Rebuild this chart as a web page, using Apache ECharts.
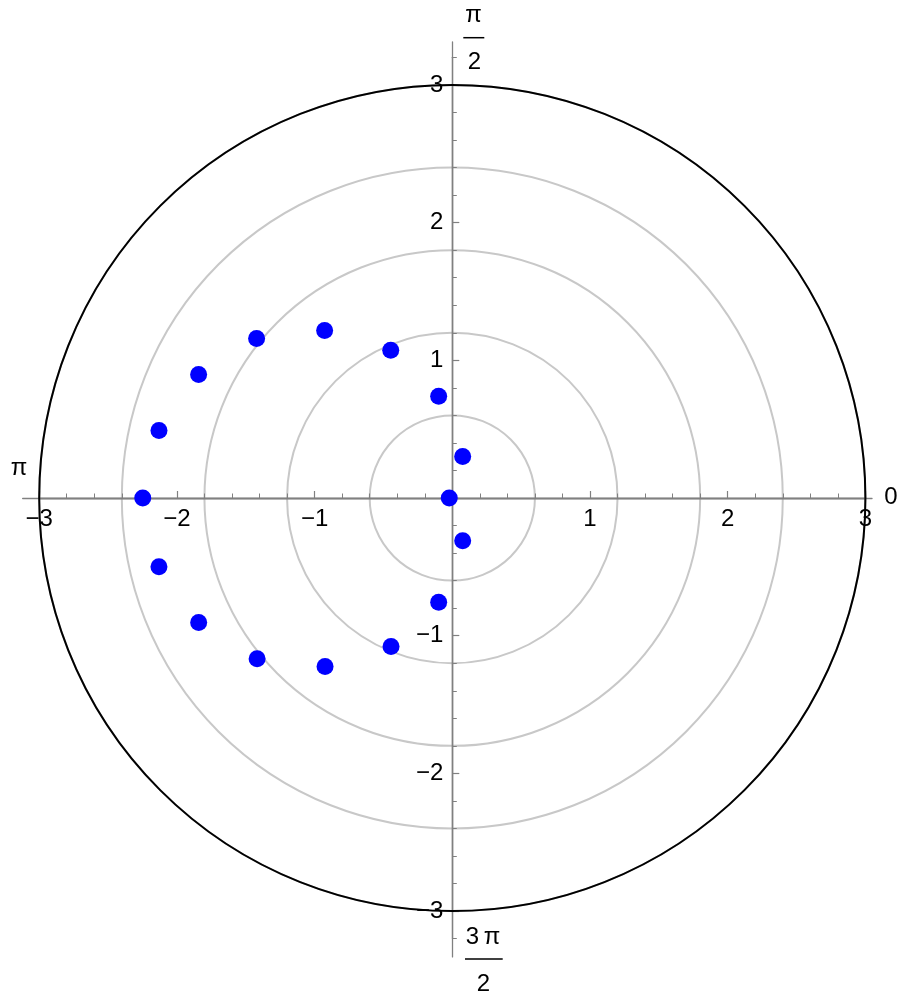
<!DOCTYPE html>
<html><head><meta charset="utf-8">
<script src="https://cdn.jsdelivr.net/npm/echarts@6/dist/echarts.min.js"></script>
<style>html,body{margin:0;padding:0;background:#fff}#c{width:900px;height:1002px}</style>
</head><body><div id="c"></div>
<script>
// ---- data (polar points: angle in degrees, radius) ----
const angles = [180, 75.96, 97.64, 112.63, 127.30, 140.80, 154.04, 167.02, 180, 193.19, 206.16, 219.46, 232.93, 247.57, 262.56, 283.68];
const radii  = [0.022, 0.311, 0.745, 1.162, 1.530, 1.834, 2.049, 2.186, 2.248, 2.188, 2.052, 1.836, 1.533, 1.166, 0.764, 0.319];
const tickValues = [-3, -2, -1, 0, 1, 2, 3];
const tickLabels = ['\u22123', '\u22122', '\u22121', '', '1', '2', '3'];
const gridRadii = [0.6, 1.2, 1.8, 2.4, 3.0];

// ---- layout ----
const CX = 452.3, CY = 498, S = 137.7;
const AX = '#808080';
const FONT = '"Liberation Sans", Arial, sans-serif';
const FS = 24;
function fmt(v) {
  const i = tickValues.findIndex(t => Math.abs(t - v) < 1e-6);
  return i >= 0 ? tickLabels[i] : '';
}
const lineStyle = { color: AX, width: 1.3 };
const hidden = (gi) => ({ type: 'value', gridIndex: gi, show: false, min: 0, max: 1 });
function shown(gi, min, max, pos, opts) {
  return Object.assign({
    type: 'value', gridIndex: gi, min: min, max: max, position: pos,
    axisLine: { show: true, onZero: false, lineStyle: lineStyle },
    axisTick: { show: false }, axisLabel: { show: false },
    splitLine: { show: false }, minorTick: { show: false }
  }, opts);
}
const labelOpt = (m) => ({ show: true, margin: m, formatter: fmt, fontSize: FS, color: '#000',
                          fontFamily: FONT, showMinLabel: true, showMaxLabel: true });
// grid whose bottom edge is the horizontal zero line
const gX = (x0, x1) => ({ left: CX + x0 * S, width: (x1 - x0) * S, top: CY - 100, height: 100, containLabel: false });
// grid whose left edge is the vertical zero line
const gY = (y0, y1) => ({ left: CX, width: 100, top: CY - y1 * S, height: (y1 - y0) * S, containLabel: false });

const chart = echarts.init(document.getElementById('c'), null, { renderer: 'canvas' });
const txt = (t, x, y) => ({ type: 'text', x: x, y: y, z: 50,
  style: { text: t, fill: '#000', fontSize: FS, fontFamily: FONT, align: 'center', verticalAlign: 'middle' } });
const bar = (x1, x2, y) => ({ type: 'line', z: 50, shape: { x1: x1, y1: y, x2: x2, y2: y },
  style: { stroke: '#000', lineWidth: 1.5 } });
const majorTick = { show: true, inside: true, length: 7, lineStyle: { color: AX, width: 1.2 } };
const minorTickS = { show: true, inside: true, length: 4.5, lineStyle: { color: AX, width: 1 } };

chart.setOption({
  animation: false,
  backgroundColor: '#fff',
  grid: [gX(-3.12, 3.048), gX(-3, 3), gX(-3, 3), gY(-3.333, 3.312), gY(-3.2, 3.2), gY(-3, 3)],
  xAxis: [
    shown(0, -3.12, 3.048, 'bottom', {}),
    shown(1, -3, 3, 'bottom', { interval: 0.2, axisTick: minorTickS }),
    shown(2, -3, 3, 'bottom', { interval: 1, axisTick: majorTick, axisLabel: labelOpt(9) }),
    hidden(3), hidden(4), hidden(5)
  ],
  yAxis: [
    hidden(0), hidden(1), hidden(2),
    shown(3, -3.333, 3.312, 'left', {}),
    shown(4, -3.2, 3.2, 'left', { interval: 0.2, axisTick: minorTickS }),
    shown(5, -3, 3, 'left', { interval: 1, axisTick: majorTick, axisLabel: labelOpt(9) })
  ],
  polar: { center: [CX, CY], radius: 3 * S },
  angleAxis: {
    type: 'value', min: 0, max: 360, startAngle: 0, clockwise: false, z: 5,
    axisLine: { show: true, lineStyle: { color: '#000', width: 2 } },
    axisTick: { show: false }, axisLabel: { show: false }, splitLine: { show: false }
  },
  radiusAxis: {
    type: 'value', min: 0, max: gridRadii[gridRadii.length - 1], interval: gridRadii[0],
    axisLine: { show: false }, axisTick: { show: false }, axisLabel: { show: false },
    splitLine: { show: true, lineStyle: { color: '#c8c8c8', width: 2 } }
  },
  series: [{
    type: 'scatter', coordinateSystem: 'polar', polarIndex: 0, z: 10,
    symbol: 'circle', symbolSize: 17,
    itemStyle: { color: '#0000ff', opacity: 1 },
    data: radii.map((r, i) => [r, angles[i]])
  }],
  graphic: [
    txt('0', 891, 497.5),
    txt('\u03c0', 19, 468),
    txt('\u03c0', 473.5, 15), bar(463.3, 484.3, 37.7), txt('2', 474.3, 62),
    txt('3\u2009\u03c0', 483, 937), bar(465, 502.7, 959), txt('2', 483.3, 984)
  ]
});
</script></body></html>
